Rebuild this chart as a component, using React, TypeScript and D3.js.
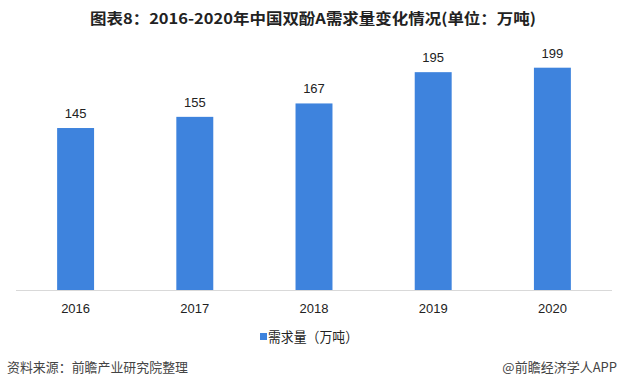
import React from "react";
import * as d3 from "d3";

const categories = ["2016", "2017", "2018", "2019", "2020"];
const values = [145, 155, 167, 195, 199];
const seriesName = "需求量（万吨）";
const title = "图表8：2016-2020年中国双酚A需求量变化情况(单位：万吨)";
const source = "资料来源：前瞻产业研究院整理";
const credit = "@前瞻经济学人APP";

const W = 618;
const H = 388;
const BAR = "#3E83DD";
const CJK = "'Noto Sans CJK SC', 'Noto Sans', sans-serif";
const NUM = "'Liberation Sans', 'Noto Sans', sans-serif";

export default function App() {
  const x = d3.scaleBand<string>().domain(categories).range([16, 612]).paddingInner(0.69).paddingOuter(0.345);
  const y = d3.scaleLinear().domain([0, 199]).range([290, 67.7]);
  return (
    <div style={{ position: "absolute", left: 0, top: 0, width: W, height: H, background: "#fff" }}>
      <svg width={W} height={H} style={{ display: "block" }}>
        <rect width={W} height={H} fill="#fff" />
        <text x={313} y={24} textAnchor="middle" fontFamily={CJK} fontWeight="bold" fontSize={15} fill="#222" textLength={446} lengthAdjust="spacingAndGlyphs">
          {title}
        </text>
        {categories.map((c, i) => (
          <g key={c}>
            <rect x={x(c)} y={y(values[i])} width={x.bandwidth()} height={y(0) - y(values[i])} fill={BAR} />
            <text x={(x(c) as number) + x.bandwidth() / 2} y={y(values[i]) - 10} textAnchor="middle" fontFamily={NUM} fontSize={13} fill="#222">
              {values[i]}
            </text>
            <text x={(x(c) as number) + x.bandwidth() / 2} y={313} textAnchor="middle" fontFamily={NUM} fontSize={13} fill="#222">
              {c}
            </text>
          </g>
        ))}
        <line x1={16} x2={612} y1={290.5} y2={290.5} stroke="#d9d9d9" strokeWidth={1} />
        <rect x={260} y={333} width={7} height={7} fill={BAR} />
        <text x={268} y={342} fontFamily={CJK} fontSize={14} fill="#222" textLength={90} lengthAdjust="spacingAndGlyphs">
          {seriesName}
        </text>
        <text x={7} y={372} fontFamily={CJK} fontSize={13} fill="#444" textLength={181} lengthAdjust="spacingAndGlyphs">
          {source}
        </text>
        <text x={617} y={372} textAnchor="end" fontFamily={CJK} fontSize={13} fill="#444">
          {credit}
        </text>
      </svg>
    </div>
  );
}
